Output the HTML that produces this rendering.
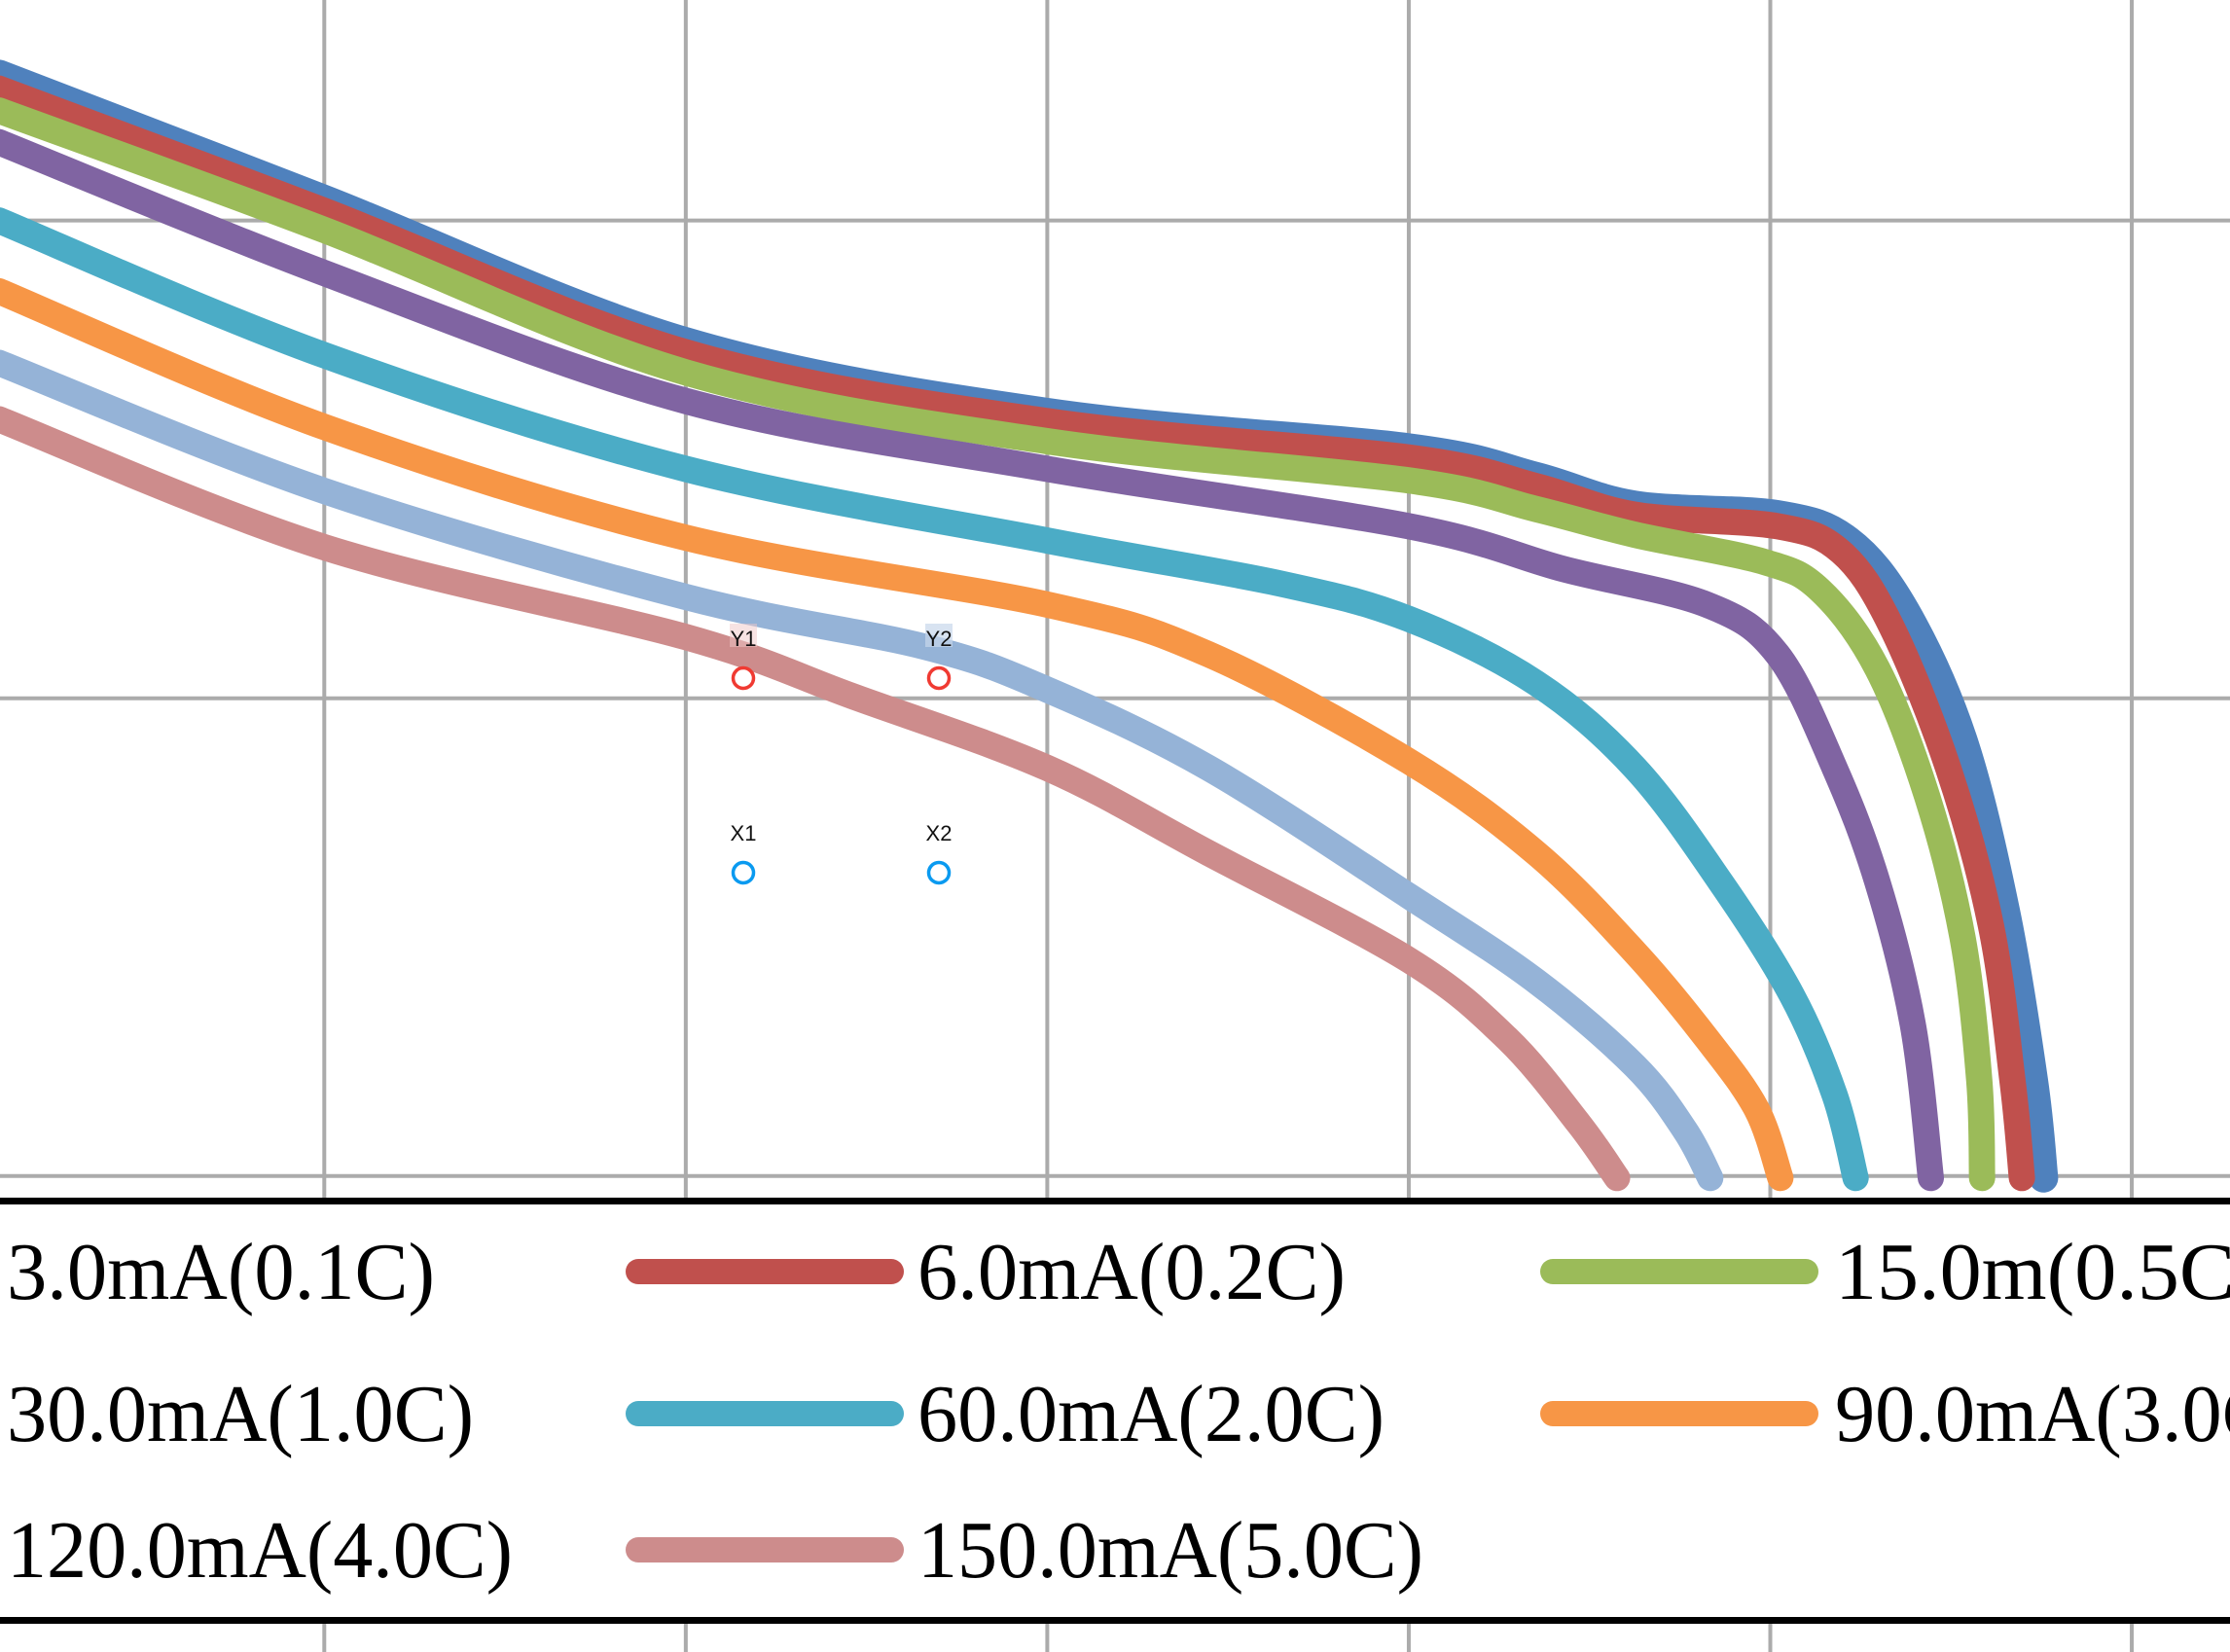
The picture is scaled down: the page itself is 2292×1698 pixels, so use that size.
<!DOCTYPE html>
<html><head><meta charset="utf-8"><style>
html,body{margin:0;padding:0;background:#fff;}
svg{display:block;}
</style></head><body>
<svg id="chart" width="2292" height="1698" viewBox="0 0 2292 1698" xmlns="http://www.w3.org/2000/svg">
<rect x="0" y="0" width="2292" height="1698" fill="#fff"/>
<g id="grid"></g>
<g id="series"></g>
<g id="markers"></g>
<g id="legend"></g>
</svg>
<script>
const seriesNames = ["3.0mA(0.1C)","6.0mA(0.2C)","15.0m(0.5C)","30.0mA(1.0C)","60.0mA(2.0C)","90.0mA(3.0C)","120.0mA(4.0C)","150.0mA(5.0C)"];
const seriesColors = ["#4F81BD","#C0504D","#9BBB59","#8064A2","#4BACC6","#F79646","#95B3D7","#CD8C8C"];
const xGridValues = [5,10,15,20,25,30];
const yGridValues = [3.0,3.5,4.0];
const capA = [0.5,5,10,15,20,21.76,23.13,25.1,26.08,26.87,27.66,28.25,28.64,28.78];
const voltA = [4.153,4.022,3.873,3.799,3.762,3.732,3.702,3.692,3.665,3.591,3.457,3.278,3.100,2.998];
const capB = [0.5,5,10,15,20,21.76,23.13,25.1,25.98,26.67,27.46,28.05,28.35,28.48];
const voltB = [4.138,4.010,3.862,3.790,3.752,3.722,3.692,3.680,3.653,3.576,3.427,3.263,3.100,2.998];
const capC = [0.5,5,10,15,20,21.76,23.13,24.9,25.69,26.48,27.17,27.66,27.89,27.93];
const voltC = [4.115,3.990,3.841,3.769,3.728,3.698,3.671,3.643,3.613,3.531,3.397,3.249,3.100,2.998];
const capD = [0.5,5,10,15,20,22.15,24.12,25.1,25.89,26.48,26.97,27.22];
const voltD = [4.082,3.945,3.811,3.740,3.680,3.635,3.598,3.546,3.427,3.308,3.159,2.998];
const capE = [0.5,5,10,15,18.22,20,21.76,23.13,24.31,25.3,25.89,26.18];
const voltE = [4.000,3.859,3.740,3.665,3.620,3.583,3.516,3.427,3.308,3.189,3.085,2.998];
const capF = [0.5,5,10,15,17.23,20,21.76,23.13,24.12,24.81,25.14];
const voltF = [3.926,3.784,3.668,3.598,3.546,3.434,3.338,3.234,3.144,3.070,2.998];
const capG = [0.5,5,10,13.3,15,17.23,20,21.76,23.13,23.82,24.17];
const voltG = [3.851,3.717,3.606,3.554,3.509,3.427,3.293,3.204,3.115,3.048,2.998];
const capH = [0.5,5,10,12.31,15,17.23,20,21.36,22.35,22.88];
const voltH = [3.792,3.658,3.564,3.502,3.427,3.338,3.226,3.144,3.055,2.998];

const NS = "http://www.w3.org/2000/svg";
function X(c){ return 333.3 + (c - 5) * 74.31; }
function Y(v){ return 1208.8 - (v - 3.0) * 982.2; }
function mk(tag, attrs, parent){ const e=document.createElementNS(NS,tag); for(const k in attrs) e.setAttribute(k,attrs[k]); parent.appendChild(e); return e; }

const gridG = document.getElementById('grid');
xGridValues.forEach(function(c){
  const l = mk('line',{x1:X(c),x2:X(c),y1:0,y2:1698,stroke:'#ababab','stroke-width':4},gridG);
  
  
});
yGridValues.forEach(function(v){
  const l = mk('line',{x1:0,x2:2292,y1:Y(v),y2:Y(v),stroke:'#ababab','stroke-width':4},gridG);
  
  
});

function smoothPath(pts){
  let d = 'M'+pts[0][0].toFixed(1)+' '+pts[0][1].toFixed(1);
  for(let i=0;i<pts.length-1;i++){
    const p0=pts[Math.max(i-1,0)], p1=pts[i], p2=pts[i+1], p3=pts[Math.min(i+2,pts.length-1)];
    const c1=[p1[0]+(p2[0]-p0[0])/6, p1[1]+(p2[1]-p0[1])/6];
    const c2=[p2[0]-(p3[0]-p1[0])/6, p2[1]-(p3[1]-p1[1])/6];
    d+=' C'+c1[0].toFixed(1)+' '+c1[1].toFixed(1)+' '+c2[0].toFixed(1)+' '+c2[1].toFixed(1)+' '+p2[0].toFixed(1)+' '+p2[1].toFixed(1);
  }
  return d;
}
const capsList=[capA,capB,capC,capD,capE,capF,capG,capH];
const voltsList=[voltA,voltB,voltC,voltD,voltE,voltF,voltG,voltH];
const seriesG=document.getElementById('series');
capsList.forEach(function(cs,i){
  const pts=cs.map(function(c,j){return [X(c),Y(voltsList[i][j])];});
  const p=mk('path',{d:smoothPath(pts),fill:'none',stroke:seriesColors[i],'stroke-width':i===0?30:27,'stroke-linecap':'round','stroke-linejoin':'round'},seriesG);
  
  
});

const markerG=document.getElementById('markers');
const markerDefs=[["Y1",764,697,"#f03a32","rgba(240,200,200,0.5)"],["Y2",965,697,"#f03a32","rgba(200,215,235,0.7)"],["X1",764,897,"#0a9af0",null],["X2",965,897,"#0a9af0",null]];
markerDefs.forEach(function(m){
  if(m[4]){
    const b=mk('rect',{x:m[1]-14,y:m[2]-56,width:28,height:24,fill:m[4]},markerG);
    
    
  }
  const t=mk('text',{x:m[1],y:m[2]-33,'text-anchor':'middle','font-family':'Liberation Sans, sans-serif','font-size':22,fill:'#111'},markerG);
  t.textContent=m[0];
  
  
  const c=mk('circle',{cx:m[1],cy:m[2],r:10.5,fill:'none',stroke:m[3],'stroke-width':3.5},markerG);
  
  
});

const legendG=document.getElementById('legend');
const legendBox=mk('rect',{x:0,y:1238,width:2292,height:426,fill:'#fff'},legendG);


const legendTop=mk('rect',{x:0,y:1231,width:2292,height:7,fill:'#000'},legendG);


const legendBottom=mk('rect',{x:0,y:1662,width:2292,height:7,fill:'#000'},legendG);


const colText=[7,943,1886], colSw=[656,1596], rowY=[1307,1453,1593];
seriesNames.forEach(function(n,i){
  const r=Math.floor(i/3), c=i%3;
  if(c>0){
    const s=mk('line',{x1:colSw[c-1],x2:colSw[c-1]+260,y1:rowY[r],y2:rowY[r],stroke:seriesColors[i],'stroke-width':26,'stroke-linecap':'round'},legendG);
    
    
  }
  const t=mk('text',{x:colText[c],y:rowY[r]+28,'font-family':'Liberation Serif, serif','font-size':84,fill:'#000',textLength:n.length*40,lengthAdjust:'spacingAndGlyphs'},legendG);
  t.textContent=n;
  
  
});
</script>
</body></html>
